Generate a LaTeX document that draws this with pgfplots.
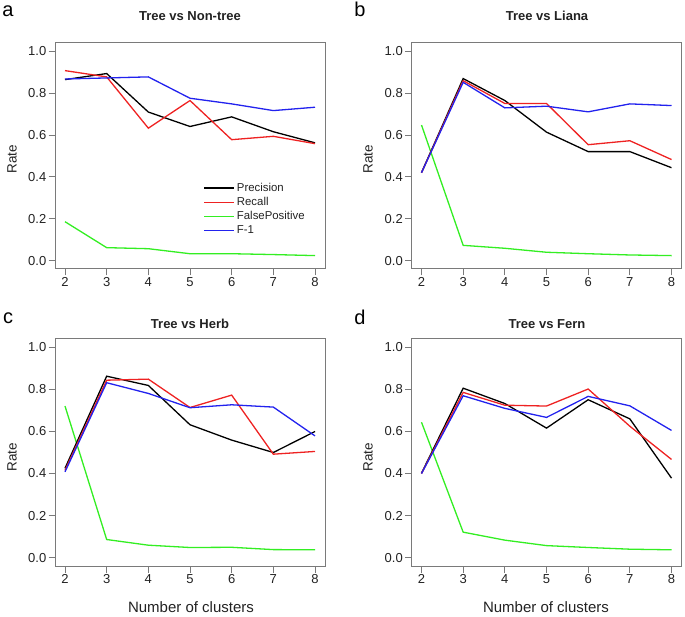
\documentclass[border=0pt]{standalone}
\usepackage{pgfplots}
\pgfplotsset{compat=1.18}
\usepackage{fontspec}
\setmainfont{Liberation Sans}
\definecolor{cPrec}{HTML}{000000}
\definecolor{cRec}{HTML}{EE2222}
\definecolor{cFP}{HTML}{33EE22}
\definecolor{cF}{HTML}{2222EE}
\definecolor{boxgray}{HTML}{7A7A7A}
\definecolor{txt}{HTML}{222222}
\pgfplotsset{
  panel/.style={
    scale only axis,
    width=270pt,
    xmin=1.76, xmax=8.24, ymin=-0.04, ymax=1.04,
    xtick={2,3,4,5,6,7,8},
    xticklabels={2,3,4,5,6,7,8},
    ytick={0,0.2,0.4,0.6,0.8,1.0},
    yticklabels={0.0,0.2,0.4,0.6,0.8,1.0},
    xtick pos=bottom, ytick pos=left,
    tick align=outside,
    major tick length=6.5pt,
    axis line style={draw=boxgray, line width=1pt},
    every tick/.style={draw=boxgray, line width=0.9pt},
    tick label style={font=\fontsize{13}{15}\selectfont, text=txt},
    xticklabel style={inner sep=1pt, yshift=-0.5pt},
    yticklabel style={inner sep=1pt, xshift=-1pt},
    every axis plot/.append style={line width=1.3pt, mark=none},
    clip=true,
  },
}
\begin{document}
\begin{tikzpicture}[x=1pt,y=1pt]
\path[use as bounding box] (0,0) rectangle (685,616);
% ---------- a ----------
\begin{axis}[panel, height=226pt, at={(55pt,347pt)}, anchor=south west,
  legend style={draw=none, fill=none, at={(axis cs:5.25,0.39)}, anchor=north west,
    font=\fontsize{11.4}{13}\selectfont, text=txt, row sep=0.5pt},
  legend cell align=left,
  legend image code/.code={\draw[#1, line width=1.3pt] (0pt,0pt) -- (24pt,0pt);\path (0pt,0pt) -- (30pt,0pt);}]
\addplot[cPrec] coordinates {(2,0.865)(3,0.894)(4,0.710)(5,0.641)(6,0.687)(7,0.616)(8,0.563)};
\addlegendentry{Precision}
\addplot[cRec] coordinates {(2,0.908)(3,0.878)(4,0.633)(5,0.765)(6,0.578)(7,0.594)(8,0.559)};
\addlegendentry{Recall}
\addplot[cFP] coordinates {(2,0.186)(3,0.062)(4,0.057)(5,0.033)(6,0.033)(7,0.029)(8,0.024)};
\addlegendentry{FalsePositive}
\addplot[cF] coordinates {(2,0.868)(3,0.873)(4,0.878)(5,0.776)(6,0.749)(7,0.717)(8,0.733)};
\addlegendentry{F-1}
\end{axis}
% ---------- b ----------
\begin{axis}[panel, height=226pt, at={(411.5pt,347pt)}, anchor=south west]
\addplot[cFP] coordinates {(2,0.648)(3,0.073)(4,0.059)(5,0.040)(6,0.033)(7,0.027)(8,0.024)};
\addplot[cPrec] coordinates {(2,0.421)(3,0.870)(4,0.765)(5,0.614)(6,0.521)(7,0.521)(8,0.444)};
\addplot[cRec] coordinates {(2,0.420)(3,0.860)(4,0.751)(5,0.751)(6,0.554)(7,0.573)(8,0.483)};
\addplot[cF] coordinates {(2,0.420)(3,0.852)(4,0.730)(5,0.738)(6,0.711)(7,0.749)(8,0.741)};
\end{axis}
% ---------- c ----------
\begin{axis}[panel, height=227pt, at={(55pt,50pt)}, anchor=south west]
\addplot[cFP] coordinates {(2,0.721)(3,0.086)(4,0.059)(5,0.048)(6,0.049)(7,0.038)(8,0.037)};
\addplot[cPrec] coordinates {(2,0.425)(3,0.863)(4,0.819)(5,0.632)(6,0.559)(7,0.500)(8,0.600)};
\addplot[cRec] coordinates {(2,0.415)(3,0.844)(4,0.849)(5,0.714)(6,0.773)(7,0.492)(8,0.505)};
\addplot[cF] coordinates {(2,0.408)(3,0.832)(4,0.781)(5,0.713)(6,0.727)(7,0.716)(8,0.579)};
\end{axis}
% ---------- d ----------
\begin{axis}[panel, height=227pt, at={(411.5pt,50pt)}, anchor=south west]
\addplot[cFP] coordinates {(2,0.644)(3,0.121)(4,0.083)(5,0.057)(6,0.048)(7,0.040)(8,0.037)};
\addplot[cPrec] coordinates {(2,0.402)(3,0.806)(4,0.733)(5,0.616)(6,0.751)(7,0.660)(8,0.378)};
\addplot[cRec] coordinates {(2,0.400)(3,0.786)(4,0.725)(5,0.721)(6,0.802)(7,0.625)(8,0.467)};
\addplot[cF] coordinates {(2,0.400)(3,0.770)(4,0.710)(5,0.667)(6,0.767)(7,0.722)(8,0.605)};
\end{axis}
% ---------- annotations ----------
\begin{scope}[every node/.style={text=black, inner sep=0pt}]
\node[font=\fontsize{20}{24}\selectfont, anchor=base] at (8,599) {a};
\node[font=\fontsize{20}{24}\selectfont, anchor=base] at (360,599) {b};
\node[font=\fontsize{20}{24}\selectfont, anchor=base] at (8,292) {c};
\node[font=\fontsize{20}{24}\selectfont, anchor=base] at (360,291) {d};
\node[font=\bfseries\fontsize{13}{15}\selectfont, text=txt] at (190,600) {Tree vs Non-tree};
\node[font=\bfseries\fontsize{13}{15}\selectfont, text=txt] at (547,600) {Tree vs Liana};
\node[font=\bfseries\fontsize{13}{15}\selectfont, text=txt] at (190,292) {Tree vs Herb};
\node[font=\bfseries\fontsize{13}{15}\selectfont, text=txt] at (547,292) {Tree vs Fern};
\node[font=\fontsize{13.5}{15}\selectfont, text=txt, rotate=90] at (12,457) {Rate};
\node[font=\fontsize{13.5}{15}\selectfont, text=txt, rotate=90] at (368,457) {Rate};
\node[font=\fontsize{13.5}{15}\selectfont, text=txt, rotate=90] at (12,159) {Rate};
\node[font=\fontsize{13.5}{15}\selectfont, text=txt, rotate=90] at (368,159) {Rate};
\node[font=\fontsize{15}{17}\selectfont, text=txt] at (191,9) {Number of clusters};
\node[font=\fontsize{15}{17}\selectfont, text=txt] at (546,9) {Number of clusters};
\end{scope}
\end{tikzpicture}
\end{document}
